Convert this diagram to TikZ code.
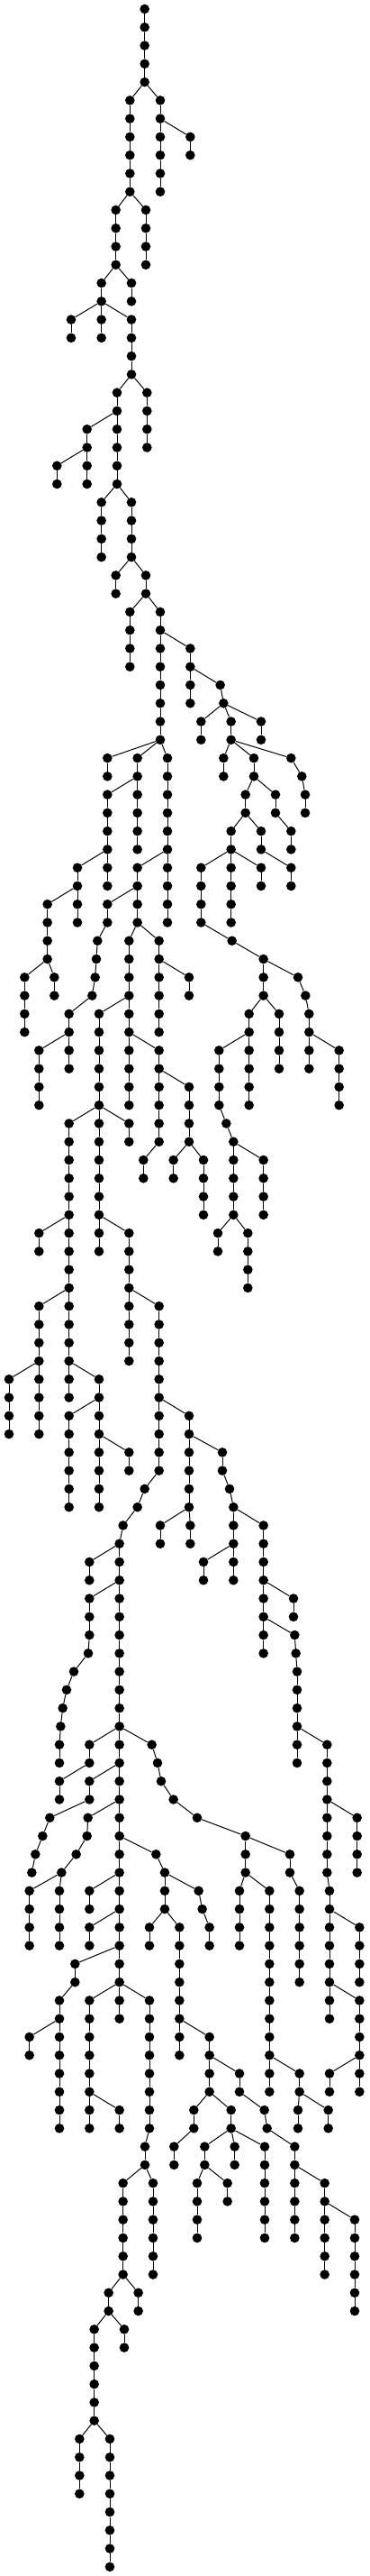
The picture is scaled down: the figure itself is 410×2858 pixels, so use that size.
\documentclass[tikz,border=0pt]{standalone}
\begin{document}
\begin{tikzpicture}[
    x=1pt, y=-1pt,
    dot/.style={circle, fill=black, inner sep=0pt, minimum size=10.6pt},
    edge/.style={line width=1pt}
]
    \useasboundingbox (0,0) rectangle (410,2858);
    \node[dot] (v0-482) at ({482/3}, 10) {};
    \foreach \l/\x/\p in {
        1/482/482, 2/482/482, 3/482/482, 4/482/482,
        5/433/482, 5/534/482,
        6/433/433, 6/534/534,
        7/433/433, 7/534/534, 7/634/534,
        8/433/433, 8/534/534, 8/634/634,
        9/433/433, 9/534/534,
        10/433/433, 10/534/534,
        11/386/433, 11/486/433,
        12/386/386, 12/486/486,
        13/386/386, 13/486/486,
        14/386/386, 14/486/486,
        15/338/386, 15/438/386,
        16/338/338, 16/438/438,
        17/237/338, 17/338/338, 17/438/338,
        18/237/237, 18/338/338, 18/438/438,
        19/438/438,
        20/438/438,
        21/390/438, 21/490/438,
        22/390/390, 22/490/490,
        23/290/390, 23/390/390, 23/490/490,
        24/290/290, 24/390/390, 24/490/490,
        25/190/290, 25/290/290, 25/390/390,
        26/190/190, 26/290/290, 26/390/390,
        27/338/390, 27/438/390,
        28/338/338, 28/438/438,
        29/338/338, 29/438/438,
        30/338/338, 30/438/438,
        31/386/438, 31/486/438,
        32/386/386, 32/486/486,
        33/433/486, 33/534/486,
        34/433/433, 34/534/534,
        35/433/433, 35/534/534, 35/634/534,
        36/433/433, 36/534/534, 36/634/634,
        37/534/534, 37/634/634, 37/734/634,
        38/534/534, 38/634/634, 38/745/734,
        39/534/534, 39/670/745, 39/770/745, 39/870/745,
        40/534/534, 40/670/670, 40/770/770, 40/870/870,
        41/358/534, 41/458/534, 41/558/534, 41/745/770, 41/846/770, 41/970/770,
        42/358/358, 42/458/458, 42/558/558, 42/745/745, 42/846/846, 42/1006/970,
        43/358/458, 43/458/458, 43/558/558, 43/818/846, 43/918/846, 43/1017/1006,
        44/358/358, 44/458/458, 44/558/558, 44/818/818, 44/918/918, 44/1017/1017,
        45/358/358, 45/458/458, 45/558/558, 45/770/818, 45/870/818, 45/970/918,
        46/358/358, 46/458/458, 46/558/558, 46/770/770, 46/870/870, 46/970/970,
        47/258/358, 47/358/358, 47/458/558, 47/558/558, 47/670/770, 47/770/770, 47/870/770, 47/970/870,
        48/258/258, 48/358/358, 48/458/458, 48/558/558, 48/670/670, 48/770/770, 48/870/870, 48/970/970,
        49/158/258, 49/258/258, 49/358/458, 49/458/458, 49/558/558, 49/670/670, 49/770/770,
        50/158/158, 50/258/258, 50/358/358, 50/458/458, 50/558/558, 50/670/670, 50/770/770,
        51/158/158, 51/325/358, 51/430/458, 51/530/458, 51/773/670,
        52/158/158, 52/321/325, 52/430/430, 52/530/530, 52/878/773,
        53/82/158, 53/181/158, 53/317/321, 53/430/430, 53/530/530, 53/630/530, 53/878/878, 53/993/878,
        54/82/82, 54/181/181, 54/307/317, 54/430/430, 54/530/530, 54/630/630, 54/878/878, 54/1018/993,
        55/82/82, 55/230/307, 55/330/430, 55/430/430, 55/530/530, 55/830/878, 55/930/878, 55/1030/1018,
        56/82/82, 56/230/230, 56/330/330, 56/430/430, 56/530/530, 56/830/830, 56/930/930, 56/1030/1030,
        57/130/230, 57/230/230, 57/330/330, 57/430/430, 57/530/430, 57/730/830, 57/830/830, 57/930/930, 57/1030/1030, 57/1130/1030,
        58/130/130, 58/230/230, 58/330/330, 58/430/430, 58/530/530, 58/730/730, 58/830/830, 58/930/930, 58/1030/1030, 58/1130/1130,
        59/130/130, 59/330/330, 59/430/430, 59/530/530, 59/630/530, 59/730/730, 59/830/830, 59/1130/1130,
        60/130/130, 60/330/330, 60/430/430, 60/530/530, 60/630/630, 60/730/730, 60/830/830, 60/1130/1130,
        61/230/330, 61/330/330, 61/430/330, 61/530/530, 61/630/630, 61/754/730,
        62/230/230, 62/330/330, 62/430/430, 62/530/530, 62/630/630, 62/778/754,
        63/230/230, 63/330/330, 63/478/530, 63/578/630, 63/678/630, 63/778/778, 63/878/778,
        64/230/230, 64/330/330, 64/478/478, 64/578/578, 64/678/678, 64/778/778, 64/878/878,
        65/230/230, 65/330/330, 65/678/678, 65/778/778, 65/878/878,
        66/230/230, 66/330/330, 66/678/678, 66/778/778, 66/878/878,
        67/130/230, 67/230/230, 67/330/330, 67/430/330, 67/726/778, 67/826/778,
        68/130/130, 68/230/230, 68/330/330, 68/430/430, 68/726/726, 68/826/826,
        69/230/230, 69/430/430, 69/826/826,
        70/230/230, 70/430/430, 70/826/826,
        71/130/230, 71/230/230, 71/430/430, 71/530/430,
        72/130/130, 72/230/230, 72/430/430, 72/530/530,
        73/130/130, 73/230/230, 73/430/430, 73/530/530,
        74/130/130, 74/230/230, 74/430/430, 74/530/530,
        75/30/130, 75/130/130, 75/230/230, 75/330/230, 75/530/530,
        76/30/30, 76/130/130, 76/230/230, 76/330/330, 76/530/530,
        77/30/30, 77/130/130, 77/230/330, 77/330/330, 77/530/530, 77/630/530,
        78/30/30, 78/130/130, 78/230/230, 78/330/330, 78/530/530, 78/630/630,
        79/230/230, 79/330/330, 79/430/330, 79/530/530, 79/630/630, 79/741/630,
        80/230/230, 80/330/330, 80/430/430, 80/530/530, 80/630/630, 80/741/741,
        81/230/230, 81/330/330, 81/482/530, 81/630/630, 81/765/741,
        82/230/230, 82/330/330, 82/458/482, 82/630/630, 82/778/765,
        83/410/458, 83/534/630, 83/634/630, 83/778/778, 83/878/778,
        84/398/410, 84/534/534, 84/634/634, 84/778/778, 84/878/878,
        85/298/398, 85/398/398, 85/678/778, 85/778/778, 85/878/878,
        86/298/298, 86/398/398, 86/678/678, 86/778/778, 86/878/878,
        87/298/398, 87/398/398, 87/878/878, 87/978/878,
        88/298/298, 88/398/398, 88/878/878, 88/978/978,
        89/298/298, 89/398/398, 89/878/878, 89/982/878,
        90/294/298, 90/398/398, 90/878/878, 90/986/982,
        91/246/294, 91/398/398, 91/990/986,
        92/222/246, 92/398/398, 92/990/990,
        93/209/222, 93/398/398, 93/990/990,
        94/202/209, 94/398/398, 94/990/990,
        95/198/202, 95/298/398, 95/398/398, 95/506/398, 95/990/990, 95/1090/990,
        96/198/198, 96/298/298, 96/398/398, 96/525/506, 96/990/990, 96/1090/1090,
        97/198/298, 97/298/398, 97/398/398, 97/537/525, 97/1090/1090,
        98/198/198, 98/298/298, 98/398/398, 98/578/537, 98/1090/1090,
        99/166/298, 99/293/398, 99/398/398, 99/657/578, 99/1090/1090, 99/1190/1090,
        100/142/166, 100/290/293, 100/398/398, 100/818/657, 100/1090/1090, 100/1190/1190,
        101/118/142, 101/254/290, 101/398/398, 101/520/398, 101/818/818, 101/966/818, 101/1090/1090, 101/1190/1190,
        102/106/118, 102/205/254, 102/398/398, 102/549/520, 102/818/818, 102/966/966, 102/1090/1090, 102/1190/1190,
        103/98/205, 103/198/205, 103/298/398, 103/398/398, 103/549/549, 103/662/549, 103/798/818, 103/898/818, 103/998/966, 103/1098/1090,
        104/98/98, 104/198/198, 104/298/298, 104/398/398, 104/549/549, 104/674/662, 104/798/798, 104/898/898, 104/998/998, 104/1098/1098,
        105/98/98, 105/198/198, 105/298/398, 105/398/398, 105/498/549, 105/598/549, 105/698/674, 105/798/798, 105/898/898, 105/998/998, 105/1098/1098, 105/1198/1098,
        106/98/98, 106/198/198, 106/298/298, 106/398/398, 106/498/498, 106/598/598, 106/698/698, 106/798/798, 106/898/898, 106/998/998, 106/1098/1098, 106/1198/1198,
        107/250/398, 107/398/398, 107/598/598, 107/898/898, 107/998/998, 107/1098/1098, 107/1198/1198,
        108/250/250, 108/398/398, 108/598/598, 108/898/898, 108/998/998, 108/1098/1098, 108/1198/1198,
        109/198/250, 109/298/398, 109/398/398, 109/498/398, 109/598/598, 109/898/898, 109/1098/1098, 109/1198/1098,
        110/198/198, 110/298/298, 110/398/398, 110/498/498, 110/598/598, 110/898/898, 110/1098/1098, 110/1198/1198,
        111/98/198, 111/198/198, 111/298/298, 111/498/498, 111/598/598, 111/698/598, 111/898/898, 111/1198/1198,
        112/98/98, 112/198/198, 112/298/298, 112/498/498, 112/598/598, 112/698/698, 112/898/898, 112/1198/1198,
        113/198/198, 113/298/298, 113/498/498, 113/698/698, 113/798/698, 113/898/898, 113/998/898, 113/1098/1198, 113/1198/1198,
        114/198/198, 114/298/298, 114/498/498, 114/698/698, 114/798/798, 114/898/898, 114/998/998, 114/1098/1098, 114/1198/1198,
        115/198/198, 115/298/298, 115/398/298, 115/498/498, 115/646/698, 115/770/698, 115/881/798, 115/993/998, 115/1094/998,
        116/198/198, 116/298/298, 116/398/398, 116/498/498, 116/646/646, 116/770/770, 116/890/881, 116/993/993, 116/1094/1094,
        117/483/498, 117/580/646, 117/682/770, 117/782/770, 117/882/770, 117/982/890,
        118/483/483, 118/580/580, 118/682/682, 118/782/782, 118/882/882, 118/982/982,
        119/410/483, 119/510/483, 119/657/682, 119/758/682, 119/882/882, 119/982/982, 119/1082/982,
        120/410/410, 120/510/510, 120/657/657, 120/758/758, 120/882/882, 120/982/982, 120/1082/1082,
        121/410/410, 121/510/510, 121/657/657, 121/882/882, 121/982/982, 121/1082/1082, 121/1182/1082,
        122/410/410, 122/510/510, 122/657/657, 122/882/882, 122/982/982, 122/1082/1082, 122/1182/1182,
        123/410/410, 123/510/510, 123/1082/1082, 123/1182/1182,
        124/410/410, 124/510/510, 124/1082/1082, 124/1182/1182,
        125/362/410, 125/461/410, 125/1182/1182,
        126/362/362, 126/461/461, 126/1182/1182,
        127/314/362, 127/414/362,
        128/314/314, 128/414/414,
        129/314/314, 130/314/314, 131/314/314, 132/314/314,
        133/265/314, 133/366/314,
        134/265/265, 134/366/366,
        135/265/265, 135/366/366,
        136/265/265, 136/366/366,
        137/366/366, 138/366/366, 139/366/366, 140/366/366} {
        \pgfmathtruncatemacro{\k}{\l-1}
        \node[dot] (v\l-\x) at ({\x/3}, {10+20.27*\l}) {};
        \draw[edge] (v\k-\p) -- (v\l-\x);
    };
\end{tikzpicture}
\end{document}
